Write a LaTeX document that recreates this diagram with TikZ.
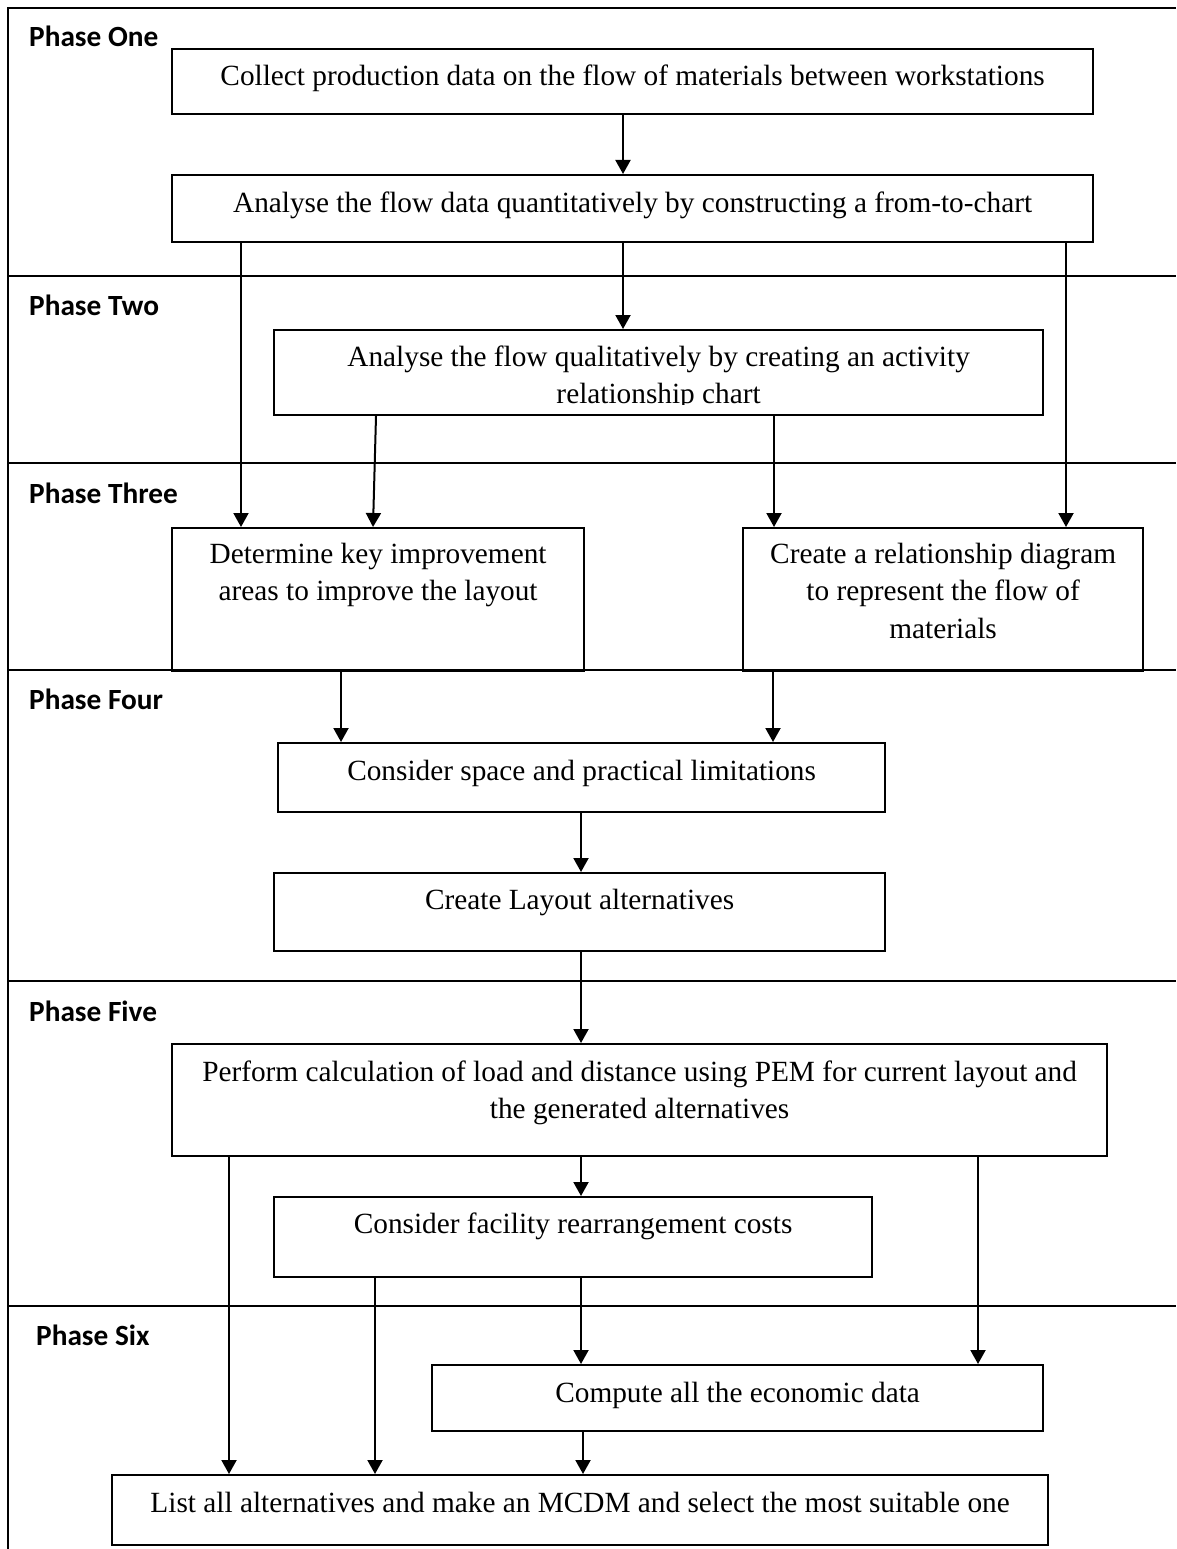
\documentclass[tikz,border=0pt]{standalone}
\usepackage{fontspec}
\setmainfont{Liberation Serif}
\newfontfamily\phasefont{Carlito}
\usetikzlibrary{arrows.meta}

\begin{document}
\begin{tikzpicture}[x=1pt,y=-1pt,
  box/.style={draw, line width=2.2pt, inner sep=0pt, anchor=north west},
  txt/.style={font=\fontsize{29.3}{37.5}\selectfont, align=center, anchor=north, inner sep=0pt},
  phase/.style={font=\phasefont\bfseries\fontsize{29.3}{35}\selectfont, anchor=base west, inner sep=0pt},
  flow/.style={line width=2pt, -{Triangle[width=15pt,length=14pt]}},
  wire/.style={line width=2pt},
  rule/.style={line width=2.8pt}]

\useasboundingbox (0,0) rectangle (1176,1549);

% outer frame and phase separators
\draw[rule] (8,1549) -- (8,8) -- (1176,8);
\foreach \yy in {276,463,670,981,1306}
  \draw[rule] (8,\yy) -- (1176,\yy);

% phase labels
\node[phase] (p1) at (29,47)   {Phase One};
\node[phase] (p2) at (29,315)  {Phase Two};
\node[phase] (p3) at (29,503)  {Phase Three};
\node[phase] (p4) at (29,709)  {Phase Four};
\node[phase] (p5) at (29,1021) {Phase Five};
\node[phase] (p6) at (36,1345) {Phase Six};

% process boxes
\node[box, minimum width=921pt, minimum height=65pt]  (b1)  at (171,48)   {};
\node[box, minimum width=921pt, minimum height=67pt]  (b2)  at (171,174)  {};
\node[box, minimum width=769pt, minimum height=85pt]  (b3)  at (273,329)  {};
\node[box, minimum width=412pt, minimum height=143pt] (b4)  at (171,527)  {};
\node[box, minimum width=400pt, minimum height=143pt] (b5)  at (742,527)  {};
\node[box, minimum width=607pt, minimum height=69pt]  (b6)  at (277,742)  {};
\node[box, minimum width=611pt, minimum height=78pt]  (b7)  at (273,872)  {};
\node[box, minimum width=935pt, minimum height=112pt] (b8)  at (171,1043) {};
\node[box, minimum width=598pt, minimum height=80pt]  (b9)  at (273,1196) {};
\node[box, minimum width=611pt, minimum height=66pt]  (b10) at (431,1364) {};
\node[box, minimum width=936pt, minimum height=70pt]  (b11) at (111,1474) {};

% box texts, set from the top of each box
\node[txt] (t1) at ([yshift=-10.75pt]b1.north) {\strut Collect production data on the flow of materials between workstations};
\node[txt] (t2) at ([yshift=-11.75pt]b2.north) {\strut Analyse the flow data quantitatively by constructing a from-to-chart};
\begin{scope}
  \clip (273,329) rectangle (1042,404);
  \node[txt] (t3) at ([yshift=-10.75pt]b3.north) {\strut Analyse the flow qualitatively by creating an activity\\\strut relationship chart};
\end{scope}
\node[txt] (t4) at ([yshift=-9.75pt]b4.north) {\strut Determine key improvement\\\strut areas to improve the layout};
\node[txt] (t5) at ([yshift=-9.75pt]b5.north) {\strut Create a relationship diagram\\\strut to represent the flow of\\\strut materials};
\node[txt] (t6) at ([yshift=-11.75pt]b6.north) {\strut Consider space and practical limitations};
\node[txt] (t7) at ([yshift=-10.75pt]b7.north) {\strut Create Layout alternatives};
\node[txt] (t8) at ([yshift=-12pt]b8.north) {\strut Perform calculation of load and distance using PEM for current layout and\\\strut the generated alternatives};
\node[txt] (t9) at ([yshift=-10.75pt]b9.north) {\strut Consider facility rearrangement costs};
\node[txt] (t10) at ([yshift=-11.75pt]b10.north) {\strut Compute all the economic data};
\node[txt] (t11) at ([yshift=-11.75pt]b11.north) {\strut List all alternatives and make an MCDM and select the most suitable one};

% connectors
\draw[flow] (623,0 |- b1.south) -- (623,0 |- b2.north);
\draw[flow] (241,0 |- b2.south) -- (241,0 |- b4.north);
\draw[flow] (623,0 |- b2.south) -- (623,0 |- b3.north);
\draw[flow] (1066,0 |- b2.south) -- (1066,0 |- b5.north);
\draw[flow] (376,0 |- b3.south) -- (373,0 |- b4.north);
\draw[flow] (774,0 |- b3.south) -- (774,0 |- b5.north);
\draw[flow] (341,0 |- b4.south) -- (341,0 |- b6.north);
\draw[flow] (773,0 |- b5.south) -- (773,0 |- b6.north);
\draw[flow] (581,0 |- b6.south) -- (581,0 |- b7.north);
\draw[flow] (581,0 |- b7.south) -- (581,0 |- b8.north);
\draw[flow] (229,0 |- b8.south) -- (229,0 |- b11.north);
\draw[flow] (581,0 |- b8.south) -- (581,0 |- b9.north);
\draw[flow] (978,0 |- b8.south) -- (978,0 |- b10.north);
\draw[flow] (375,0 |- b9.south) -- (375,0 |- b11.north);
\draw[flow] (581,0 |- b9.south) -- (581,0 |- b10.north);
\draw[flow] (583,0 |- b10.south) -- (583,0 |- b11.north);

\end{tikzpicture}
\end{document}
